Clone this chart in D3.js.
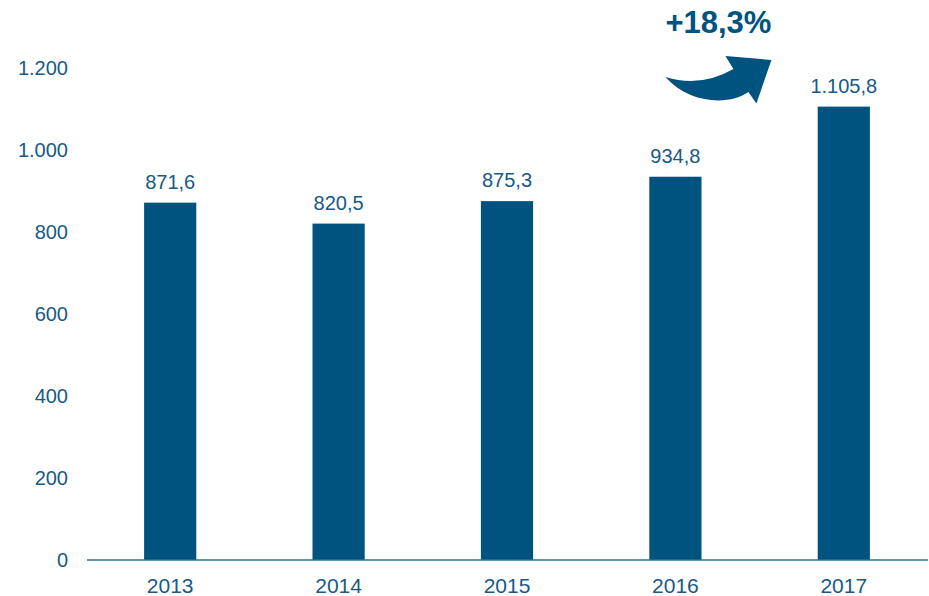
<!DOCTYPE html>
<html><head><meta charset="utf-8">
<script src="https://cdn.jsdelivr.net/npm/d3@7"></script>
<style>body{margin:0;background:#fff}svg{display:block}text{font-family:"Liberation Sans",Arial,sans-serif}</style>
</head><body>
<svg id="c" width="929" height="596"></svg>
<script>
const years = ["2013","2014","2015","2016","2017"];
const values = [871.6, 820.5, 875.3, 934.8, 1105.8];
const valueLabels = ["871,6","820,5","875,3","934,8","1.105,8"];
const yTicks = [0,200,400,600,800,1000,1200];
const yTickLabels = ["0","200","400","600","800","1.000","1.200"];
const growthLabel = "+18,3%";

const barColor = "#00527f", textColor = "#175a86";
const svg = d3.select("#c");
const x = d3.scaleBand().domain(years).range([86, 928]).paddingInner(0.69).paddingOuter(0.345);
const y = d3.scaleLinear().domain([0,1200]).range([560,68]);

// y tick labels
svg.append("g").selectAll("text").data(yTicks).join("text")
  .attr("x", 68).attr("y", d => y(d) + 7).attr("text-anchor","end")
  .attr("font-size", 20).attr("fill", textColor)
  .text((d,i) => yTickLabels[i]);

// bars
svg.append("g").selectAll("rect").data(values).join("rect")
  .attr("x", (d,i) => x(years[i])).attr("width", x.bandwidth())
  .attr("y", d => y(d)).attr("height", d => y(0) - y(d))
  .attr("fill", barColor);

// axis line
svg.append("line").attr("x1", 87).attr("x2", 928).attr("y1", y(0)).attr("y2", y(0))
  .attr("stroke", "#2f6f9a").attr("stroke-width", 1.5);

// x labels
svg.append("g").selectAll("text").data(years).join("text")
  .attr("x", d => x(d) + x.bandwidth()/2).attr("y", 593).attr("text-anchor","middle")
  .attr("font-size", 21).attr("fill", textColor).text(d => d);

// value labels
svg.append("g").selectAll("text").data(values).join("text")
  .attr("x", (d,i) => x(years[i]) + x.bandwidth()/2).attr("y", d => y(d) - 14)
  .attr("text-anchor","middle").attr("font-size", 20).attr("fill", textColor)
  .text((d,i) => valueLabels[i]);

// growth annotation
const ax = x("2016") + x.bandwidth()/2;
svg.append("text").attr("x", ax + 43).attr("y", 33).attr("text-anchor","middle")
  .attr("font-size", 31).attr("font-weight","bold").attr("fill", barColor).text(growthLabel);
const arrow = d3.path();
arrow.moveTo(ax - 10, 77);
arrow.quadraticCurveTo(ax + 25, 88, ax + 58, 69);
arrow.lineTo(ax + 50, 56);
arrow.lineTo(ax + 96, 60);
arrow.lineTo(ax + 81, 103.5);
arrow.lineTo(ax + 73, 92);
arrow.bezierCurveTo(ax + 55, 105, ax + 15, 105, ax - 10, 77);
arrow.closePath();
svg.append("path").attr("d", arrow.toString()).attr("fill", barColor);
</script>
</body></html>
